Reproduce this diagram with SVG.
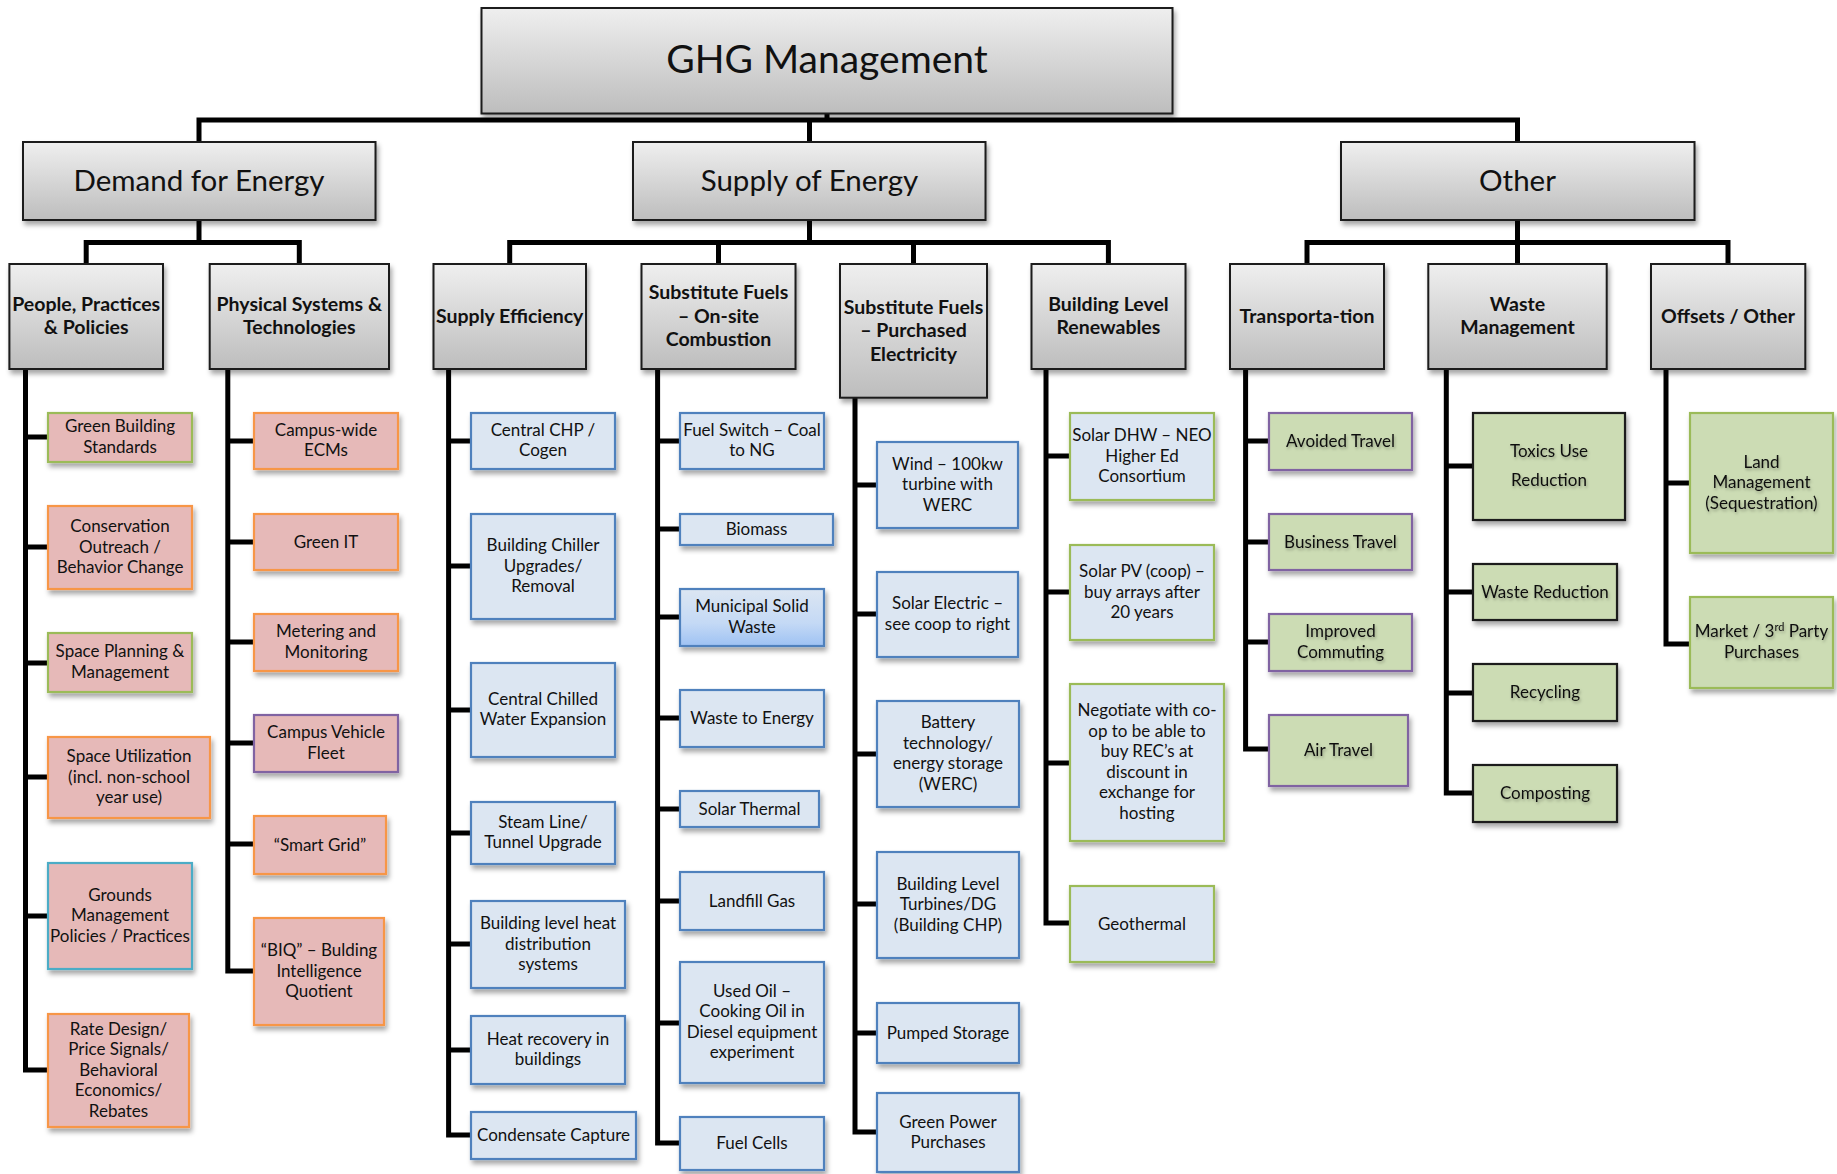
<svg xmlns="http://www.w3.org/2000/svg" width="1837" height="1174" viewBox="0 0 1837 1174">
<defs>
<linearGradient id="gray" x1="0" y1="0" x2="0" y2="1">
<stop offset="0" stop-color="#EFEFEF"/><stop offset="1" stop-color="#BDBDBD"/>
</linearGradient>
<linearGradient id="msw" x1="0" y1="0" x2="0" y2="1">
<stop offset="0" stop-color="#DCE6F2"/><stop offset="0.6" stop-color="#C4D9F5"/><stop offset="1" stop-color="#9EC2F3"/>
</linearGradient>
<filter id="sh" x="-10%" y="-10%" width="130%" height="140%">
<feDropShadow dx="2" dy="4" stdDeviation="2.5" flood-color="#000" flood-opacity="0.35"/>
</filter>
<filter id="tsh" x="-10%" y="-30%" width="120%" height="180%">
<feDropShadow dx="1" dy="2" stdDeviation="1.5" flood-color="#000" flood-opacity="0.3"/>
</filter>
</defs>
<style>
text{font-family:Lato,"Liberation Sans",sans-serif;fill:#111;text-anchor:middle}
.hd rect{fill:url(#gray);stroke:#1a1a1a;stroke-width:2;filter:url(#sh)}
.t0{font-size:39px}
.t1{font-size:29.5px}
.t2{font-size:19.5px;font-weight:bold}
.c text{font-size:17px}
.c rect{stroke-width:2.2;filter:url(#sh)}
.g text{filter:url(#tsh)}
.pk{fill:#E6B9B8}
.bl{fill:#DCE6F2;stroke:#4F81BD}
.gr{fill:#CCDCB4}
.so{stroke:#F79646}
.sg{stroke:#9BBB59}
.sp{stroke:#8064A2}
.st{stroke:#4BACC6}
.sk{stroke:#1a1a1a}
#conn path{fill:none;stroke:#000;stroke-width:5;stroke-linejoin:miter;stroke-linecap:butt}
</style>

<g id="conn">
<path d="M827,113V120"/>
<path d="M199,142V120H1517.5V142"/>
<path d="M809.5,120V142"/>
<path d="M199,220V242.5"/>
<path d="M86.2,264V242.5H299.3V264"/>
<path d="M809.5,220V242.5"/>
<path d="M509.7,264V242.5H1108.4V264"/>
<path d="M718.5,242.5V264"/>
<path d="M913.5,242.5V264"/>
<path d="M1517.5,220V264"/>
<path d="M1307,264V242.5H1728V264"/>
<path d="M25.5,369V1070H48"/>
<path d="M25.5,437H48M25.5,547H48M25.5,663H48M25.5,777H48M25.5,916H48"/>
<path d="M227.8,369V971H254"/>
<path d="M227.8,441H254M227.8,542H254M227.8,642H254M227.8,743H254M227.8,844H254"/>
<path d="M448.6,369V1135H471"/>
<path d="M448.6,441H471M448.6,566H471M448.6,710H471M448.6,833H471M448.6,944H471M448.6,1050H471"/>
<path d="M657.6,369V1143H680"/>
<path d="M657.6,441H680M657.6,529H680M657.6,617H680M657.6,718H680M657.6,809H680M657.6,901H680M657.6,1023H680"/>
<path d="M855,398V1132H877"/>
<path d="M855,485H877M855,614H877M855,754H877M855,904H877M855,1033H877"/>
<path d="M1046,369V923H1070"/>
<path d="M1046,456H1070M1046,592H1070M1046,763H1070"/>
<path d="M1245.6,369V749H1269"/>
<path d="M1245.6,441H1269M1245.6,542H1269M1245.6,642H1269"/>
<path d="M1446.3,369V793H1473"/>
<path d="M1446.3,466H1473M1446.3,592H1473M1446.3,693H1473"/>
<path d="M1666,369V644H1690"/>
<path d="M1666,483H1690"/>
</g>

<g id="ghg" class="hd"><rect x="481.5" y="8" width="691" height="105.5"/><text class="t0" x="827" y="73">GHG Management</text></g>

<g id="demand" class="hd"><rect x="23" y="142" width="352.5" height="78"/><text class="t1" x="199" y="191">Demand for Energy</text></g>
<g id="supply" class="hd"><rect x="633" y="142" width="352.5" height="78"/><text class="t1" x="809.5" y="191">Supply of Energy</text></g>
<g id="other" class="hd"><rect x="1341" y="142" width="353.5" height="78"/><text class="t1" x="1517.5" y="191">Other</text></g>

<g id="people" class="hd"><rect x="9.4" y="264" width="153.6" height="105"/><text class="t2" x="86.2" y="311">People, Practices</text><text class="t2" x="86.2" y="334.4">&amp; Policies</text></g>
<g id="physical" class="hd"><rect x="209.7" y="264" width="179.3" height="105"/><text class="t2" x="299.3" y="311">Physical Systems &amp;</text><text class="t2" x="299.3" y="334.4">Technologies</text></g>
<g id="supplyeff" class="hd"><rect x="433.5" y="264" width="152.5" height="105"/><text class="t2" x="509.7" y="323">Supply Efficiency</text></g>
<g id="onsite" class="hd"><rect x="641.5" y="264" width="154" height="105"/><text class="t2" x="718.5" y="299.4">Substitute Fuels</text><text class="t2" x="718.5" y="322.8">– On-site</text><text class="t2" x="718.5" y="346.2">Combustion</text></g>
<g id="purchased" class="hd"><rect x="840" y="264" width="147" height="133.7"/><text class="t2" x="913.5" y="313.9">Substitute Fuels</text><text class="t2" x="913.5" y="337.3">– Purchased</text><text class="t2" x="913.5" y="360.7">Electricity</text></g>
<g id="bldgren" class="hd"><rect x="1031.5" y="264" width="154" height="105"/><text class="t2" x="1108.4" y="311">Building Level</text><text class="t2" x="1108.4" y="334.4">Renewables</text></g>
<g id="transport" class="hd"><rect x="1230" y="264" width="154" height="105"/><text class="t2" x="1307" y="323">Transporta-tion</text></g>
<g id="waste" class="hd"><rect x="1428.3" y="264" width="178.4" height="105"/><text class="t2" x="1517.5" y="311">Waste</text><text class="t2" x="1517.5" y="334.4">Management</text></g>
<g id="offsets" class="hd"><rect x="1651" y="264" width="154.3" height="105"/><text class="t2" x="1728" y="323">Offsets / Other</text></g>

<g id="p1" class="c"><rect class="pk sg" x="48" y="413" width="144" height="49"/><text x="120" y="432.2">Green Building</text><text x="120" y="452.7">Standards</text></g>
<g id="p2" class="c"><rect class="pk so" x="48" y="506" width="144" height="83"/><text x="120" y="532">Conservation</text><text x="120" y="552.5">Outreach /</text><text x="120" y="573">Behavior Change</text></g>
<g id="p3" class="c"><rect class="pk sg" x="48" y="633" width="144" height="59"/><text x="120" y="657.2">Space Planning &amp;</text><text x="120" y="677.7">Management</text></g>
<g id="p4" class="c"><rect class="pk so" x="48" y="737" width="162" height="81"/><text x="129" y="762">Space Utilization</text><text x="129" y="782.5">(incl. non-school</text><text x="129" y="803">year use)</text></g>
<g id="p5" class="c"><rect class="pk st" x="48" y="863" width="144" height="106"/><text x="120" y="900.5">Grounds</text><text x="120" y="921">Management</text><text x="120" y="941.5">Policies / Practices</text></g>
<g id="p6" class="c"><rect class="pk so" x="48" y="1014" width="141" height="113"/><text x="118.5" y="1034.5">Rate Design/</text><text x="118.5" y="1055">Price Signals/</text><text x="118.5" y="1075.5">Behavioral</text><text x="118.5" y="1096">Economics/</text><text x="118.5" y="1116.5">Rebates</text></g>

<g id="y1" class="c"><rect class="pk so" x="254" y="413" width="144" height="56"/><text x="326" y="435.7">Campus-wide</text><text x="326" y="456.2">ECMs</text></g>
<g id="y2" class="c"><rect class="pk so" x="254" y="514" width="144" height="56"/><text x="326" y="547.5">Green IT</text></g>
<g id="y3" class="c"><rect class="pk so" x="254" y="614" width="144" height="57"/><text x="326" y="637.2">Metering and</text><text x="326" y="657.7">Monitoring</text></g>
<g id="y4" class="c"><rect class="pk sp" x="254" y="715" width="144" height="57"/><text x="326" y="738.2">Campus Vehicle</text><text x="326" y="758.7">Fleet</text></g>
<g id="y5" class="c"><rect class="pk so" x="254" y="816" width="132" height="58"/><text x="320" y="850.5">“Smart Grid”</text></g>
<g id="y6" class="c"><rect class="pk so" x="254" y="918" width="130" height="107"/><text x="319" y="956">“BIQ” – Bulding</text><text x="319" y="976.5">Intelligence</text><text x="319" y="997">Quotient</text></g>

<g id="s1" class="c"><rect class="bl" x="471" y="413" width="144" height="56"/><text x="543" y="435.7">Central CHP /</text><text x="543" y="456.2">Cogen</text></g>
<g id="s2" class="c"><rect class="bl" x="471" y="514" width="144" height="105"/><text x="543" y="551">Building Chiller</text><text x="543" y="571.5">Upgrades/</text><text x="543" y="592">Removal</text></g>
<g id="s3" class="c"><rect class="bl" x="471" y="663" width="144" height="94"/><text x="543" y="704.7">Central Chilled</text><text x="543" y="725.2">Water Expansion</text></g>
<g id="s4" class="c"><rect class="bl" x="471" y="802" width="144" height="62"/><text x="543" y="827.7">Steam Line/</text><text x="543" y="848.2">Tunnel Upgrade</text></g>
<g id="s5" class="c"><rect class="bl" x="471" y="901" width="154" height="87"/><text x="548" y="929">Building level heat</text><text x="548" y="949.5">distribution</text><text x="548" y="970">systems</text></g>
<g id="s6" class="c"><rect class="bl" x="471" y="1016" width="154" height="68"/><text x="548" y="1044.7">Heat recovery in</text><text x="548" y="1065.2">buildings</text></g>
<g id="s7" class="c"><rect class="bl" x="471" y="1112" width="165" height="47"/><text x="553.5" y="1141">Condensate Capture</text></g>

<g id="o1" class="c"><rect class="bl" x="680" y="413" width="144" height="56"/><text x="752" y="435.7">Fuel Switch – Coal</text><text x="752" y="456.2">to NG</text></g>
<g id="o2" class="c"><rect class="bl" x="680" y="514" width="153" height="31"/><text x="756.5" y="535">Biomass</text></g>
<g id="o3" class="c"><rect class="bl" x="680" y="589" width="144" height="57" style="fill:url(#msw)"/><text x="752" y="612.2">Municipal Solid</text><text x="752" y="632.7">Waste</text></g>
<g id="o4" class="c"><rect class="bl" x="680" y="690" width="144" height="57"/><text x="752" y="724">Waste to Energy</text></g>
<g id="o5" class="c"><rect class="bl" x="680" y="791" width="139" height="36"/><text x="749.5" y="814.5">Solar Thermal</text></g>
<g id="o6" class="c"><rect class="bl" x="680" y="872" width="144" height="58"/><text x="752" y="906.5">Landfill Gas</text></g>
<g id="o7" class="c"><rect class="bl" x="680" y="962" width="144" height="121"/><text x="752" y="996.7">Used Oil –</text><text x="752" y="1017.2">Cooking Oil in</text><text x="752" y="1037.7">Diesel equipment</text><text x="752" y="1058.2">experiment</text></g>
<g id="o8" class="c"><rect class="bl" x="680" y="1117" width="144" height="53"/><text x="752" y="1149">Fuel Cells</text></g>

<g id="u1" class="c"><rect class="bl" x="877" y="442" width="141" height="86"/><text x="947.5" y="469.5">Wind – 100kw</text><text x="947.5" y="490">turbine with</text><text x="947.5" y="510.5">WERC</text></g>
<g id="u2" class="c"><rect class="bl" x="877" y="572" width="141" height="85"/><text x="947.5" y="609.2">Solar Electric –</text><text x="947.5" y="629.7">see coop to right</text></g>
<g id="u3" class="c"><rect class="bl" x="877" y="701" width="142" height="106"/><text x="948" y="728.2">Battery</text><text x="948" y="748.7">technology/</text><text x="948" y="769.2">energy storage</text><text x="948" y="789.7">(WERC)</text></g>
<g id="u4" class="c"><rect class="bl" x="877" y="852" width="142" height="106"/><text x="948" y="889.5">Building Level</text><text x="948" y="910">Turbines/DG</text><text x="948" y="930.5">(Building CHP)</text></g>
<g id="u5" class="c"><rect class="bl" x="877" y="1003" width="142" height="60"/><text x="948" y="1038.5">Pumped Storage</text></g>
<g id="u6" class="c"><rect class="bl" x="877" y="1093" width="142" height="79"/><text x="948" y="1127.7">Green Power</text><text x="948" y="1148.2">Purchases</text></g>

<g id="b1" class="c"><rect class="bl sg" x="1070" y="413" width="144" height="87"/><text x="1142" y="441">Solar DHW – NEO</text><text x="1142" y="461.5">Higher Ed</text><text x="1142" y="482">Consortium</text></g>
<g id="b2" class="c"><rect class="bl sg" x="1070" y="545" width="144" height="95"/><text x="1142" y="577">Solar PV (coop) –</text><text x="1142" y="597.5">buy arrays after</text><text x="1142" y="618">20 years</text></g>
<g id="b3" class="c"><rect class="bl sg" x="1070" y="684" width="154" height="157"/><text x="1147" y="716.2">Negotiate with co-</text><text x="1147" y="736.7">op to be able to</text><text x="1147" y="757.2">buy REC’s at</text><text x="1147" y="777.7">discount in</text><text x="1147" y="798.2">exchange for</text><text x="1147" y="818.7">hosting</text></g>
<g id="b4" class="c"><rect class="bl sg" x="1070" y="886" width="144" height="76"/><text x="1142" y="929.5">Geothermal</text></g>

<g id="t1" class="c g"><rect class="gr sp" x="1269" y="413" width="143" height="57"/><text x="1340.5" y="447">Avoided Travel</text></g>
<g id="t2" class="c g"><rect class="gr sp" x="1269" y="514" width="143" height="56"/><text x="1340.5" y="547.5">Business Travel</text></g>
<g id="t3" class="c g"><rect class="gr sp" x="1269" y="614" width="143" height="57"/><text x="1340.5" y="637.2">Improved</text><text x="1340.5" y="657.7">Commuting</text></g>
<g id="t4" class="c g"><rect class="gr sp" x="1269" y="715" width="139" height="71"/><text x="1338.5" y="756">Air Travel</text></g>

<g id="w1" class="c g"><rect class="gr sk" x="1473" y="413" width="152" height="107"/><text x="1549" y="456.5">Toxics Use</text><text x="1549" y="485.5">Reduction</text></g>
<g id="w2" class="c g"><rect class="gr sk" x="1473" y="564" width="144" height="56"/><text x="1545" y="597.5">Waste Reduction</text></g>
<g id="w3" class="c g"><rect class="gr sk" x="1473" y="664" width="144" height="57"/><text x="1545" y="698">Recycling</text></g>
<g id="w4" class="c g"><rect class="gr sk" x="1473" y="765" width="144" height="57"/><text x="1545" y="799">Composting</text></g>

<g id="f1" class="c g"><rect class="gr sg" x="1690" y="413" width="143" height="140"/><text x="1761.5" y="467.5">Land</text><text x="1761.5" y="488">Management</text><text x="1761.5" y="508.5">(Sequestration)</text></g>
<g id="f2" class="c g"><rect class="gr sg" x="1690" y="597" width="143" height="91"/><text x="1761.5" y="637.2">Market / 3<tspan font-size="11" baseline-shift="super">rd</tspan> Party</text><text x="1761.5" y="657.7">Purchases</text></g>
</svg>
